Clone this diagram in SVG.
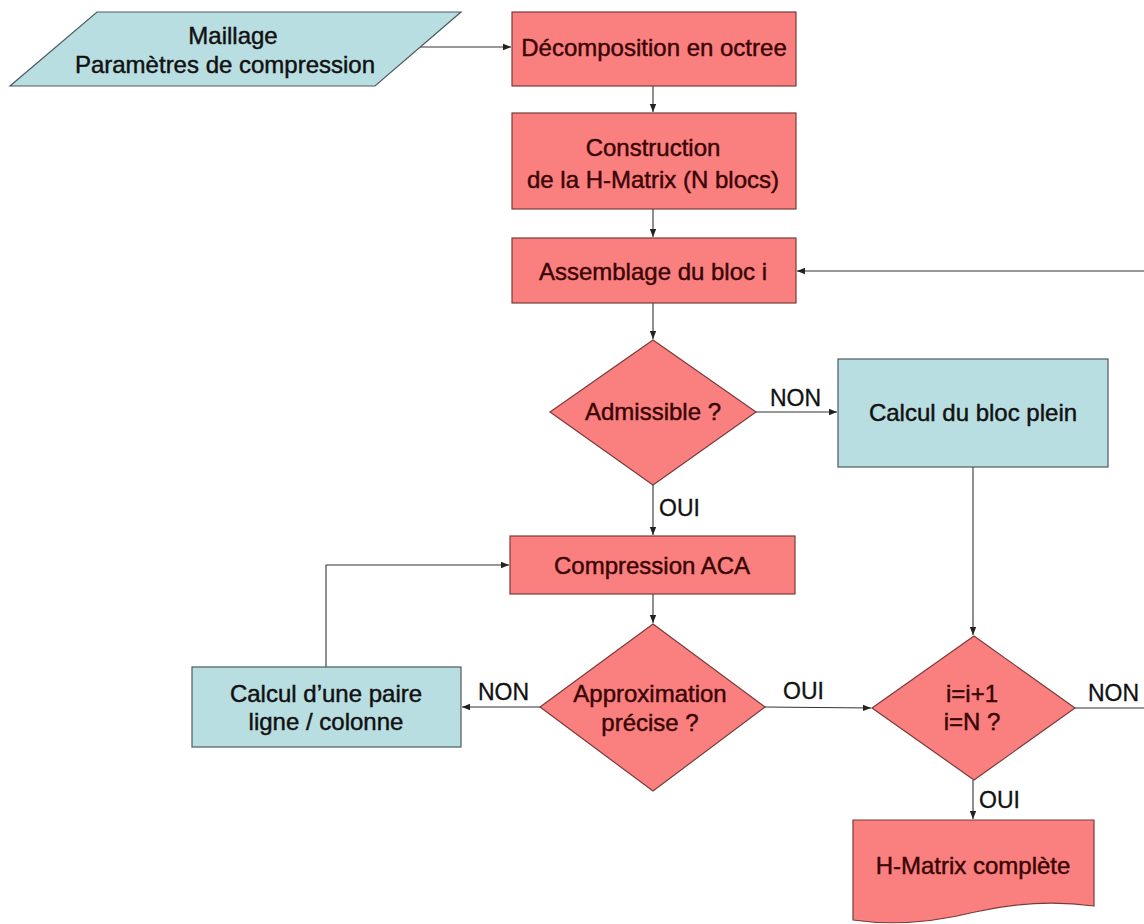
<svg xmlns="http://www.w3.org/2000/svg" width="1144" height="924" viewBox="0 0 1144 924">
<style>
.red{fill:#FA8080;stroke:#7a3a3a;stroke-width:1.2}
.blue{fill:#B9DEE2;stroke:#4d5b5d;stroke-width:1.2}
.t{font-family:"Liberation Sans",Arial,sans-serif;font-size:24px;text-anchor:middle;stroke-width:0.45}
.tr{fill:#3a0505;stroke:#3a0505}
.tb{fill:#111;stroke:#111}
.lbl{font-family:"Liberation Sans",Arial,sans-serif;font-size:23px;fill:#111;stroke:#111;stroke-width:0.3}
.c{fill:none;stroke:#333;stroke-width:1.1}
</style>
<defs>
<marker id="ah" viewBox="0 0 10 10" refX="10" refY="5" markerWidth="8" markerHeight="8" markerUnits="userSpaceOnUse" orient="auto">
<path d="M0,1 L10,5 L0,9 Z" fill="#222"/>
</marker>
</defs>
<rect width="1144" height="924" fill="#fff"/>
<g id="connectors">
<path class="c" d="M415,47 H511" marker-end="url(#ah)"/>
<path class="c" d="M653,86 V112" marker-end="url(#ah)"/>
<path class="c" d="M653,209 V237" marker-end="url(#ah)"/>
<path class="c" d="M1144,271 H797" marker-end="url(#ah)"/>
<path class="c" d="M653,303 V339" marker-end="url(#ah)"/>
<path class="c" d="M756,412 H837" marker-end="url(#ah)"/>
<path class="c" d="M653,485 V535" marker-end="url(#ah)"/>
<path class="c" d="M973,467 V635" marker-end="url(#ah)"/>
<path class="c" d="M653,594 V623" marker-end="url(#ah)"/>
<path class="c" d="M540,707 H462" marker-end="url(#ah)"/>
<path class="c" d="M326,667 V565 H509" marker-end="url(#ah)"/>
<path class="c" d="M765,707 L871,708" marker-end="url(#ah)"/>
<path class="c" d="M1075,708 H1144"/>
<path class="c" d="M973,780 V819" marker-end="url(#ah)"/>
<text class="lbl" x="770" y="406">NON</text>
<text class="lbl" x="659" y="516">OUI</text>
<text class="lbl" x="478" y="700">NON</text>
<text class="lbl" x="783" y="699">OUI</text>
<text class="lbl" x="1088" y="701">NON</text>
<text class="lbl" x="979" y="808">OUI</text>
</g>
<g id="input">
<path class="blue" d="M97,12 H461 L375,86 H10 Z"/>
<text class="t tb" x="233" y="44">Maillage</text>
<text class="t tb" x="225" y="73">Paramètres de compression</text>
</g>
<g id="decomposition">
<rect class="red" x="512" y="12" width="284" height="74"/>
<text class="t tr" x="654" y="56">Décomposition en octree</text>
</g>
<g id="construction">
<rect class="red" x="512" y="113" width="284" height="96"/>
<text class="t tr" x="653" y="156">Construction</text>
<text class="t tr" x="653" y="188">de la H-Matrix (N blocs)</text>
</g>
<g id="assemblage">
<rect class="red" x="512" y="238" width="284" height="65"/>
<text class="t tr" x="653" y="280">Assemblage du bloc i</text>
</g>
<g id="admissible">
<path class="red" d="M653,340 L756,412 L653,485 L550,412 Z"/>
<text class="t tr" x="653" y="420">Admissible ?</text>
</g>
<g id="bloc-plein">
<rect class="blue" x="838" y="359" width="270" height="108"/>
<text class="t tb" x="973" y="421">Calcul du bloc plein</text>
</g>
<g id="compression">
<rect class="red" x="510" y="536" width="285" height="58"/>
<text class="t tr" x="652" y="574">Compression ACA</text>
</g>
<g id="approximation">
<path class="red" d="M653,624 L765,707 L653,791 L540,707 Z"/>
<text class="t tr" x="650" y="702">Approximation</text>
<text class="t tr" x="650" y="731">précise ?</text>
</g>
<g id="paire">
<rect class="blue" x="192" y="667" width="269" height="80"/>
<text class="t tb" x="326" y="702">Calcul d’une paire</text>
<text class="t tb" x="326" y="730">ligne / colonne</text>
</g>
<g id="increment">
<path class="red" d="M974,636 L1075,708 L974,780 L872,708 Z"/>
<text class="t tr" x="972" y="702">i=i+1</text>
<text class="t tr" x="972" y="730">i=N ?</text>
</g>
<g id="complete">
<path class="red" d="M853,820 H1094 V906 C1050,900 1010,904 975,912 C935,922 895,926 853,920 Z"/>
<text class="t tr" x="973" y="874">H-Matrix complète</text>
</g>
</svg>
